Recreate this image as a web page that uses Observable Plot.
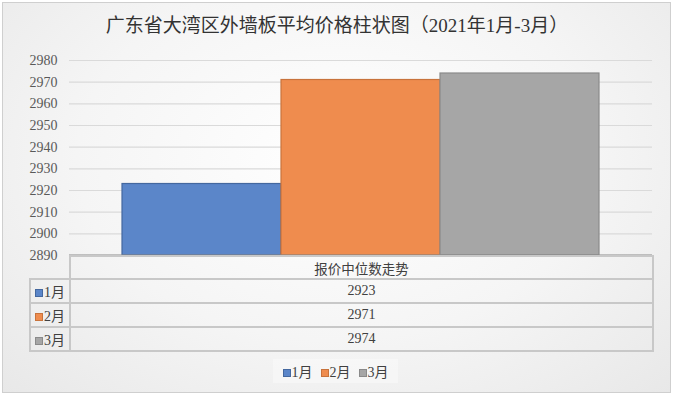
<!DOCTYPE html>
<html><head><meta charset="utf-8">
<script src="https://cdn.jsdelivr.net/npm/d3@7"></script>
<script src="https://cdn.jsdelivr.net/npm/@observablehq/plot@0.6"></script>
<style>
body{margin:0;background:#fff;}
#chart{position:relative;width:674px;height:398px;overflow:hidden;font-family:"Liberation Serif","Noto Sans CJK SC",serif;color:#404040;}
#frame{position:absolute;left:2px;top:2px;width:667px;height:389px;border:1px solid #cfcfcf;background:radial-gradient(ellipse at 50% 40%, #ffffff 0%, #f5f5f5 55%, #e8e8e8 100%);}
#title{position:absolute;left:0;width:674px;top:13px;text-align:center;font-size:19px;line-height:26px;color:#333;white-space:nowrap;}
#plot{position:absolute;left:0;top:0;}
#tbl{position:absolute;left:29px;top:255px;border-collapse:collapse;table-layout:fixed;font-size:14px;color:#404040;}
#tbl td{border:2px solid #c8c8c8;padding:0;text-align:center;}
#tbl td.lab{text-align:left;padding-left:4px;white-space:nowrap;}
#tbl td.blank{border:none;border-right:2px solid #c8c8c8;}
.sw{display:inline-block;width:6px;height:6px;border:1px solid;margin-right:1px;vertical-align:0px;}
#legend{position:absolute;left:273px;top:359px;width:125px;height:24px;background:rgba(255,255,255,0.35);display:flex;align-items:center;justify-content:center;font-size:14px;color:#404040;white-space:nowrap;}
#legend span.item{margin:0 4px;}
</style>
</head><body>
<div id="chart">
  <div id="frame"></div>
  <div id="title"></div>
  <div id="plot"></div>
  <table id="tbl"></table>
  <div id="legend"></div>
</div>
<script>
const title = "广东省大湾区外墙板平均价格柱状图（2021年1月-3月）";
const months = ["1月", "2月", "3月"];
const prices = [2923, 2971, 2974];
const fills = ["#5b86c9", "#ef8c4e", "#a6a6a6"];
const strokes = ["#44689f", "#c8733c", "#8a8a8a"];
const yTicks = [2890, 2900, 2910, 2920, 2930, 2940, 2950, 2960, 2970, 2980];
const tableHeader = "报价中位数走势";

document.getElementById("title").textContent = title;

const data = months.map((m, i) => ({month: m, price: prices[i], fill: fills[i], stroke: strokes[i]}));

const chart = Plot.plot({
  width: 674,
  height: 398,
  marginTop: 60,
  marginBottom: 143,
  marginLeft: 69,
  marginRight: 22,
  style: {background: "transparent", fontFamily: '"Liberation Serif","Noto Sans CJK SC",serif', fontSize: "14px", color: "#595959", overflow: "visible"},
  x: {domain: months, paddingInner: 0, paddingOuter: 0.322, axis: null},
  y: {domain: [yTicks[0], yTicks[yTicks.length - 1]], ticks: yTicks, tickFormat: d => String(d), tickSize: 0, tickPadding: 12, label: null},
  color: {type: "identity"},
  marks: [
    Plot.ruleY(yTicks.slice(1), {stroke: "#dadada", strokeWidth: 1.2}),
    Plot.barY(data, {x: "month", y1: yTicks[0], y2: "price", fill: "fill", stroke: "stroke", strokeWidth: 1.2, inset: 0}),
    Plot.ruleY([yTicks[0]], {stroke: "#8c8c8c", strokeWidth: 2})
  ]
});
document.getElementById("plot").appendChild(chart);

// data table
const tbl = document.getElementById("tbl");
const colg = document.createElement("colgroup");
colg.innerHTML = '<col style="width:40px"><col style="width:583px">';
tbl.appendChild(colg);
const hr = document.createElement("tr");
hr.style.height = "23px";
hr.innerHTML = '<td class="blank"></td><td></td>';
hr.children[1].textContent = tableHeader;
hr.children[1].style.fontFamily = '"Noto Sans CJK SC",sans-serif';
hr.children[1].style.fontSize = "13.5px";
tbl.appendChild(hr);
months.forEach((m, i) => {
  const tr = document.createElement("tr");
  tr.style.height = "24px";
  const td1 = document.createElement("td");
  td1.className = "lab";
  const sw = document.createElement("span");
  sw.className = "sw";
  sw.style.background = fills[i];
  sw.style.borderColor = strokes[i];
  td1.appendChild(sw);
  td1.appendChild(document.createTextNode(m));
  const td2 = document.createElement("td");
  td2.textContent = prices[i];
  tr.appendChild(td1); tr.appendChild(td2);
  tbl.appendChild(tr);
});

// legend
const lg = document.getElementById("legend");
months.forEach((m, i) => {
  const it = document.createElement("span");
  it.className = "item";
  const sw = document.createElement("span");
  sw.className = "sw";
  sw.style.background = fills[i];
  sw.style.borderColor = strokes[i];
  it.appendChild(sw);
  it.appendChild(document.createTextNode(m));
  lg.appendChild(it);
});
</script>
</body></html>
